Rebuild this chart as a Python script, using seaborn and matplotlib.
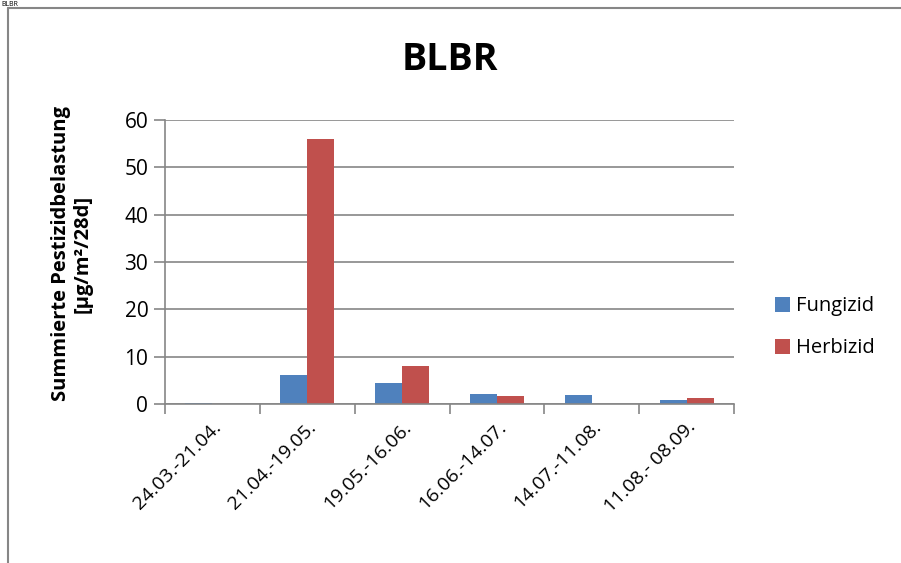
import matplotlib
matplotlib.use("Agg")
import matplotlib.pyplot as plt
from matplotlib.lines import Line2D
import seaborn as sns
import pandas as pd

# Zeitraeume und summierte Belastung je Wirkstoffgruppe
perioden = ["24.03.-21.04.", "21.04.-19.05.", "19.05.-16.06.",
            "16.06.-14.07.", "14.07.-11.08.", "11.08.- 08.09."]
fungizid = [0.15, 6.1, 4.5, 2.15, 2.0, 0.95]
herbizid = [0.0, 56.0, 8.0, 1.6, 0.1, 1.3]
gruppen = ["Fungizid", "Herbizid"]
farben = ["#4F81BD", "#C0504D"]

df = pd.DataFrame({
    "Periode": perioden * 2,
    "Gruppe": [gruppen[0]] * len(perioden) + [gruppen[1]] * len(perioden),
    "Wert": fungizid + herbizid,
})

sns.set_theme(style="white")
plt.rcParams["font.family"] = ["Open Sans", "DejaVu Sans"]
plt.rcParams["text.color"] = "black"
plt.rcParams["axes.labelcolor"] = "black"
plt.rcParams["xtick.color"] = "black"
plt.rcParams["ytick.color"] = "black"

fig = plt.figure(figsize=(9.01, 5.63), dpi=100)
ax = fig.add_axes([0.1831, 0.2824, 0.6316, 0.5045])

sns.barplot(data=df, x="Periode", y="Wert", hue="Gruppe", palette=farben,
            width=0.57, gap=0, saturation=1, ax=ax, legend=True,
            linewidth=0)

grau = "#868686"
ax.set_ylim(0, 60)
ax.set_xlim(-0.5, len(perioden) - 0.5)
ax.set_yticks(range(0, 61, 10))
ax.yaxis.grid(True, color=grau, linewidth=1.2)
ax.set_axisbelow(True)
for s in ["top", "right"]:
    ax.spines[s].set_visible(False)
for s in ["left", "bottom"]:
    ax.spines[s].set_color(grau)
    ax.spines[s].set_linewidth(1.2)

ax.tick_params(axis="y", length=8, width=1.2, color=grau, labelsize=15,
               labelcolor="black", left=True, pad=4)
ax.set_xticks(range(len(perioden)))
ax.set_xticklabels(perioden, rotation=45, ha="right", rotation_mode="anchor",
                   fontsize=14)
ax.tick_params(axis="x", length=0, pad=10, labelcolor="black")
ax.set_xticks([i - 0.5 for i in range(len(perioden) + 1)], minor=True)
ax.tick_params(axis="x", which="minor", length=7, width=1.2, color=grau,
               bottom=True)

ax.set_xlabel("")
ax.set_ylabel("Summierte Pestizidbelastung\n[µg/m²/28d]", fontsize=14.5,
              fontweight="bold", linespacing=1.05)
ax.yaxis.set_label_coords(-0.128, 0.53)
ax.set_title("BLBR", fontsize=27, fontweight="bold", pad=36)

handles, labels = ax.get_legend_handles_labels()
ax.legend(handles, labels, loc="center left", bbox_to_anchor=(1.04, 0.27),
          frameon=False, fontsize=14.5, handlelength=0.75, handleheight=0.75,
          handletextpad=0.3, labelspacing=1.1)

# Rahmen des Diagrammbereichs
fig.add_artist(Line2D([8 / 901, 8 / 901], [0, 1 - 8 / 563], color=grau,
                      linewidth=1.5, transform=fig.transFigure))
fig.add_artist(Line2D([8 / 901, 1], [1 - 8 / 563, 1 - 8 / 563], color=grau,
                      linewidth=1.5, transform=fig.transFigure))
fig.text(0.002, 0.999, "BLBR", fontsize=5, va="top", ha="left")

fig.savefig("out.png", dpi=100)
